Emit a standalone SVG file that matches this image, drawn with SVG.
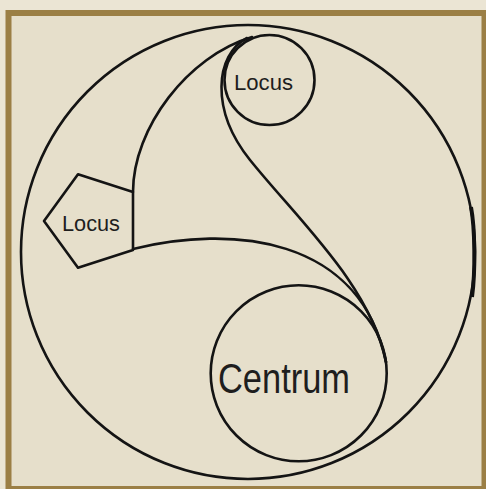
<svg xmlns="http://www.w3.org/2000/svg" width="486" height="489" viewBox="0 0 486 489">
  <style>
    .ln { fill: none; stroke: #141414; stroke-width: 2.6; stroke-linecap: round; stroke-linejoin: round; }
    .lbl { font-family: "Liberation Sans", "DejaVu Sans", sans-serif; fill: #1e1e1e; text-anchor: start; }
  </style>
  <rect x="0" y="0" width="486" height="489" fill="#ebe5d4"/>
  <rect id="frame" x="8.5" y="13" width="476" height="476" fill="#e6dfcb" stroke="#9b7f45" stroke-width="6"/>

  <g id="boundary">
    <ellipse class="ln" cx="248" cy="252" rx="227" ry="227"/>
    <path d="M471,207 C475,228 475.5,272 472,297" fill="none" stroke="#111" stroke-width="4"/>
  </g>

  <g id="connectors">
    <path id="edge-pentagon-locus" class="ln" d="M133,192 C133,128 188,56 252,37"/>
    <path id="edge-locus-centrum" class="ln" d="M247,38 C215,55 210,110 250,160 C300,222 370,285 386,362"/>
    <path id="edge-pentagon-centrum" class="ln" d="M133,249 C230,225 360,235 386,362"/>
  </g>

  <g id="node-locus-top">
    <circle class="ln" cx="269.5" cy="80" r="45"/>
    <text class="lbl" x="234" y="90" font-size="22" textLength="59" lengthAdjust="spacingAndGlyphs">Locus</text>
  </g>

  <g id="node-locus-pentagon">
    <polygon class="ln" points="133,192.1 78,174.2 44,221 78,267.8 133,249.9"/>
    <text class="lbl" x="62" y="231" font-size="22" textLength="58" lengthAdjust="spacingAndGlyphs">Locus</text>
  </g>

  <g id="node-centrum">
    <circle class="ln" cx="298.7" cy="373.3" r="88"/>
    <text class="lbl" x="218" y="393" font-size="42" textLength="132" lengthAdjust="spacingAndGlyphs">Centrum</text>
  </g>
</svg>
